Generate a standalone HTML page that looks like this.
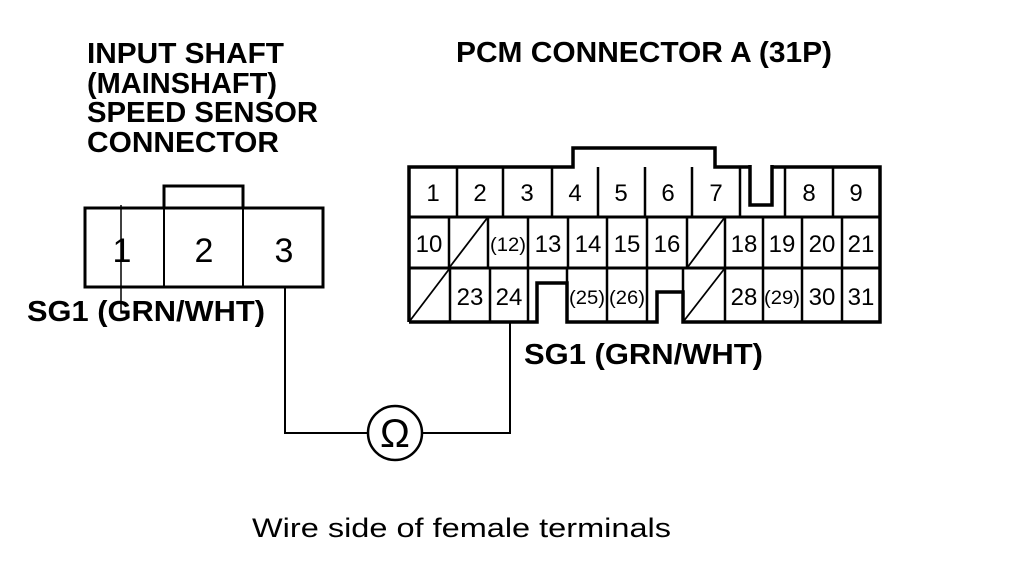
<!DOCTYPE html>
<html><head><meta charset="utf-8"><style>
html,body{margin:0;padding:0;background:#fff;}
svg{display:block;}
text{font-family:"Liberation Sans",Arial,sans-serif;fill:#000;}
.b{font-weight:bold;font-size:29px;}
.n{font-size:24px;}
.s{font-size:19px;}
</style></head><body>
<svg width="1024" height="582" viewBox="0 0 1024 582" xmlns="http://www.w3.org/2000/svg">
<g class="b">
<text x="87" y="63" textLength="197" lengthAdjust="spacingAndGlyphs">INPUT SHAFT</text>
<text x="87" y="93" textLength="190" lengthAdjust="spacingAndGlyphs">(MAINSHAFT)</text>
<text x="87" y="122" textLength="231" lengthAdjust="spacingAndGlyphs">SPEED SENSOR</text>
<text x="87" y="152" textLength="192" lengthAdjust="spacingAndGlyphs">CONNECTOR</text>
<text x="456" y="62" textLength="376" lengthAdjust="spacingAndGlyphs">PCM CONNECTOR A (31P)</text>
<text x="27" y="321" textLength="238" lengthAdjust="spacingAndGlyphs">SG1 (GRN/WHT)</text>
<text x="524" y="364" textLength="239" lengthAdjust="spacingAndGlyphs">SG1 (GRN/WHT)</text>
</g>
<text x="252" y="537" font-size="27" textLength="419" lengthAdjust="spacingAndGlyphs">Wire side of female terminals</text>

<g fill="none" stroke="#000">
<rect x="85" y="208" width="238" height="79" stroke-width="3"/>
<polyline points="164,208 164,186 243,186 243,208" stroke-width="3"/>
<line x1="164" y1="208" x2="164" y2="287" stroke-width="2"/>
<line x1="243" y1="208" x2="243" y2="287" stroke-width="2"/>
<line x1="121" y1="205" x2="121" y2="312" stroke-width="1.5"/>
<polyline points="285,287 285,433 368,433" stroke-width="2"/>
<polyline points="422,433 510,433 510,322" stroke-width="2"/>
<circle cx="395" cy="433" r="27" stroke-width="2.5"/>

<polyline points="409,322 409,167 573,167 573,148 715,148 715,167 880,167 880,322 683,322 683,292 657,292 657,322 567,322 567,283 537,283 537,322 409,322" stroke-width="3.5"/>
<line x1="409" y1="217" x2="880" y2="217" stroke-width="3"/>
<line x1="409" y1="268" x2="880" y2="268" stroke-width="3"/>
<g stroke-width="2.5">
<line x1="457" y1="167" x2="457" y2="217"/>
<line x1="503" y1="167" x2="503" y2="217"/>
<line x1="552" y1="167" x2="552" y2="217"/>
<line x1="598" y1="167" x2="598" y2="217"/>
<line x1="645" y1="167" x2="645" y2="217"/>
<line x1="692" y1="167" x2="692" y2="217"/>
<line x1="740" y1="167" x2="740" y2="217"/>
<line x1="785" y1="167" x2="785" y2="217"/>
<line x1="833" y1="167" x2="833" y2="217"/>
</g>
<rect x="751" y="163" width="20" height="7" fill="#fff" stroke="none"/>
<polyline points="750,165 750,205 772,205 772,165" stroke-width="3.5"/>
<g stroke-width="2.5">
<line x1="449" y1="217" x2="449" y2="268"/>
<line x1="488" y1="217" x2="488" y2="268"/>
<line x1="528" y1="217" x2="528" y2="268"/>
<line x1="568" y1="217" x2="568" y2="268"/>
<line x1="607" y1="217" x2="607" y2="268"/>
<line x1="647" y1="217" x2="647" y2="268"/>
<line x1="687" y1="217" x2="687" y2="268"/>
<line x1="725" y1="217" x2="725" y2="268"/>
<line x1="763" y1="217" x2="763" y2="268"/>
<line x1="802" y1="217" x2="802" y2="268"/>
<line x1="842" y1="217" x2="842" y2="268"/>
<line x1="450" y1="268" x2="450" y2="322"/>
<line x1="490" y1="268" x2="490" y2="322"/>
<line x1="528" y1="268" x2="528" y2="322"/>
<line x1="567" y1="268" x2="567" y2="322"/>
<line x1="607" y1="268" x2="607" y2="322"/>
<line x1="647" y1="268" x2="647" y2="322"/>
<line x1="683" y1="268" x2="683" y2="322"/>
<line x1="725" y1="268" x2="725" y2="322"/>
<line x1="763" y1="268" x2="763" y2="322"/>
<line x1="802" y1="268" x2="802" y2="322"/>
<line x1="842" y1="268" x2="842" y2="322"/>
</g>
<g stroke-width="1.8">
<line x1="449" y1="268" x2="488" y2="217"/>
<line x1="687" y1="268" x2="725" y2="217"/>
<line x1="409" y1="322" x2="450" y2="268"/>
<line x1="683" y1="322" x2="725" y2="268"/>
</g>
</g>
<text x="395" y="447" font-size="40" text-anchor="middle">Ω</text>

<g text-anchor="middle">
<text x="122" y="262" font-size="34">1</text>
<text x="204" y="262" font-size="34">2</text>
<text x="284" y="262" font-size="34">3</text>
</g>
<g class="n" text-anchor="middle">
<text x="433" y="201">1</text><text x="480" y="201">2</text><text x="527" y="201">3</text>
<text x="575" y="201">4</text><text x="621" y="201">5</text><text x="668" y="201">6</text>
<text x="716" y="201">7</text><text x="809" y="201">8</text><text x="856" y="201">9</text>
<text x="429" y="252">10</text>
<text x="548" y="252">13</text><text x="588" y="252">14</text><text x="627" y="252">15</text>
<text x="667" y="252">16</text><text x="744" y="252">18</text><text x="782" y="252">19</text>
<text x="822" y="252">20</text><text x="861" y="252">21</text>
<text x="470" y="305">23</text><text x="509" y="305">24</text>
<text x="744" y="305">28</text><text x="822" y="305">30</text><text x="861" y="305">31</text>
</g>
<g class="s" text-anchor="middle">
<text x="508" y="251" textLength="36" lengthAdjust="spacingAndGlyphs">(12)</text>
<text x="587" y="304" textLength="36" lengthAdjust="spacingAndGlyphs">(25)</text>
<text x="627" y="304" textLength="36" lengthAdjust="spacingAndGlyphs">(26)</text>
<text x="782" y="304" textLength="36" lengthAdjust="spacingAndGlyphs">(29)</text>
</g>
</svg>
</body></html>
